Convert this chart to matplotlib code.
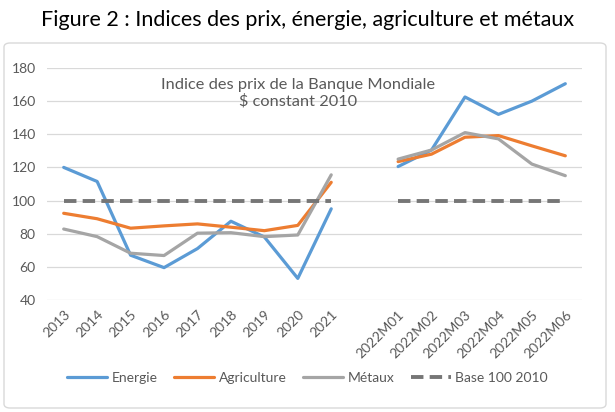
import numpy as np
import matplotlib.pyplot as plt
from matplotlib.patches import FancyBboxPatch

plt.rcParams['font.family'] = ['Lato', 'DejaVu Sans']

# categories (empty slot separates yearly and monthly data)
categories = ['2013', '2014', '2015', '2016', '2017', '2018', '2019', '2020', '2021', '',
              '2022M01', '2022M02', '2022M03', '2022M04', '2022M05', '2022M06']
nan = np.nan
energie = [120, 111.5, 67, 59.5, 71, 87.5, 78, 53, 95, nan,
           120.5, 130.5, 162.5, 152, 160, 170.5]
agriculture = [92.3, 89, 83.3, 84.7, 85.9, 83.9, 81.8, 85, 111, nan,
               123.5, 128, 138.2, 139.2, 133, 127]
metaux = [82.8, 78.2, 68.2, 66.8, 80.3, 80.6, 78.2, 79.2, 115.5, nan,
          125, 130.5, 141, 137.2, 122, 115]
base = [100, 100, 100, 100, 100, 100, 100, 100, 100, nan,
        100, 100, 100, 100, 100, 100]

fig = plt.figure(figsize=(6.15, 4.12), dpi=100)
ax = fig.add_axes([0.0764, 0.272, 0.8700, 0.563])

x = np.arange(len(categories))
lw = 2.3
ax.plot(x, energie, color='#5B9BD5', lw=lw, label='Energie', solid_capstyle='round')
ax.plot(x, agriculture, color='#ED7D31', lw=lw, label='Agriculture', solid_capstyle='round')
ax.plot(x, metaux, color='#A5A5A5', lw=lw, label='Métaux', solid_capstyle='round')
ax.plot(x, base, color='#767676', lw=2.8, ls=(0, (3.2, 1.6)), label='Base 100 2010')

ax.set_xlim(-0.5, len(categories) - 0.5)
ax.set_ylim(40, 180)
ax.set_yticks(np.arange(40, 181, 20))
ax.yaxis.grid(True, color='#d9d9d9', lw=0.9)
ax.set_axisbelow(True)
for s in ax.spines.values():
    s.set_visible(False)
ax.set_xticks(x)
ax.set_xticklabels(categories, rotation=45, ha='right', rotation_mode='anchor')
ax.tick_params(axis='both', length=0, labelsize=10, colors='#595959')
ax.tick_params(axis='y', pad=8)
ax.tick_params(axis='x', pad=6)

ax.text(7.0, 174, 'Indice des prix de la Banque Mondiale\n$ constant 2010',
        ha='center', va='top', fontsize=11.8, color='#595959', linespacing=1.2)

fig.legend(loc='center', bbox_to_anchor=(0.5, 1 - 378 / 412), ncol=4, frameon=False,
           handlelength=2.9, columnspacing=1.2, handletextpad=0.3, fontsize=10,
           labelcolor='#595959')

fig.text(0.5, 1 - 20 / 412, 'Figure 2 : Indices des prix, énergie, agriculture et métaux',
         ha='center', va='center', fontsize=15.5, color='black')

box = FancyBboxPatch((4 / 615, 4 / 412), 602 / 615, 365 / 412,
                     boxstyle='round,pad=0,rounding_size=0.01', transform=fig.transFigure,
                     fill=False, edgecolor='#d9d9d9', lw=1.0)
fig.patches.append(box)

fig.savefig('out.png', dpi=100)
